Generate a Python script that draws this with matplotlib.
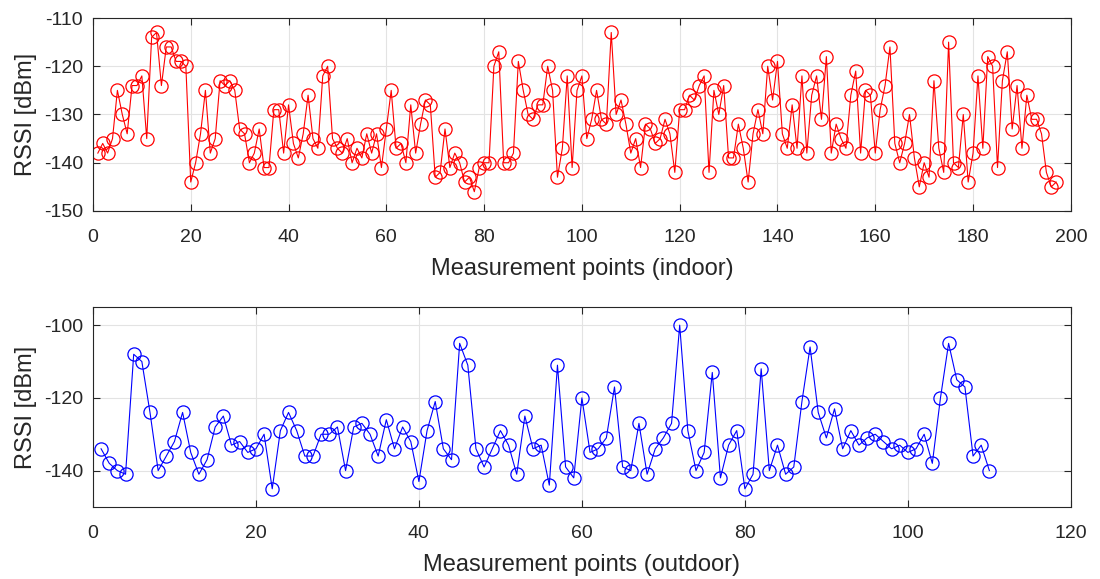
import matplotlib
matplotlib.use("Agg")
import matplotlib.pyplot as plt
import numpy as np

# RSSI readings, indoor (points 1..197)
rssi_indoor = [
    -138, -136, -138, -135, -125, -130, -134, -124, -124, -122,
    -135, -114, -113, -124, -116, -116, -119, -119, -120, -144,
    -140, -134, -125, -138, -135, -123, -124, -123, -125, -133,
    -134, -140, -138, -133, -141, -141, -129, -129, -138, -128,
    -136, -139, -134, -126, -135, -137, -122, -120, -135, -137,
    -138, -135, -140, -137, -139, -134, -138, -134, -141, -133,
    -125, -137, -136, -140, -128, -138, -132, -127, -128, -143,
    -142, -133, -141, -138, -140, -144, -143, -146, -141, -140,
    -140, -120, -117, -140, -140, -138, -119, -125, -130, -131,
    -128, -128, -120, -125, -143, -137, -122, -141, -125, -122,
    -135, -131, -125, -131, -132, -113, -130, -127, -132, -138,
    -135, -141, -132, -133, -136, -135, -131, -134, -142, -129,
    -129, -126, -127, -124, -122, -142, -125, -130, -124, -139,
    -139, -132, -137, -144, -134, -129, -134, -120, -127, -119,
    -134, -137, -128, -137, -122, -138, -126, -122, -131, -118,
    -138, -132, -135, -137, -126, -121, -138, -125, -126, -138,
    -129, -124, -116, -136, -140, -136, -130, -139, -145, -140,
    -143, -123, -137, -142, -115, -140, -141, -130, -144, -138,
    -122, -137, -118, -120, -141, -123, -117, -133, -124, -137,
    -126, -131, -131, -134, -142, -145, -144,
]

# RSSI readings, outdoor (points 1..110)
rssi_outdoor = [
    -134, -138, -140, -141, -108, -110, -124, -140, -136, -132,
    -124, -135, -141, -137, -128, -125, -133, -132, -135, -134,
    -130, -145, -129, -124, -129, -136, -136, -130, -130, -128,
    -140, -128, -127, -130, -136, -126, -134, -128, -132, -143,
    -129, -121, -134, -137, -105, -111, -134, -139, -134, -129,
    -133, -141, -125, -134, -133, -144, -111, -139, -142, -120,
    -135, -134, -131, -117, -139, -140, -127, -141, -134, -131,
    -127, -100, -129, -140, -135, -113, -142, -133, -129, -145,
    -141, -112, -140, -133, -141, -139, -121, -106, -124, -131,
    -123, -134, -129, -133, -131, -130, -132, -134, -133, -135,
    -134, -130, -138, -120, -105, -115, -117, -136, -133, -140,
]

plt.rcParams['font.family'] = ['Liberation Sans', 'DejaVu Sans']
plt.rcParams['axes.unicode_minus'] = False

fig = plt.figure(figsize=(11, 5.79), dpi=100)
ax1 = fig.add_axes([0.0845, 0.6356, 0.889, 0.3333])
ax2 = fig.add_axes([0.0845, 0.1244, 0.889, 0.3454])


def style(ax):
    ax.grid(True, color='#e3e3e3', linewidth=0.8)
    ax.set_axisbelow(True)
    ax.tick_params(direction='in', top=True, right=True, length=5,
                   width=0.8, colors='#262626', labelsize=14)
    ax.tick_params(axis='x', pad=13)
    ax.tick_params(axis='y', pad=7)
    for s in ax.spines.values():
        s.set_color('#262626')
        s.set_linewidth(0.8)


x1 = np.arange(1, len(rssi_indoor) + 1)
ax1.plot(x1, rssi_indoor, color='red', linewidth=0.8, marker='o',
         markersize=9.5, markerfacecolor='none', markeredgewidth=0.9)
ax1.set_xlim(0, 200)
ax1.set_ylim(-150, -110)
ax1.set_xticks(range(0, 201, 20))
ax1.set_yticks(range(-150, -109, 10))
ax1.set_xlabel('Measurement points (indoor)', fontsize=17, color='#262626', labelpad=8.5)
ax1.set_ylabel('RSSI [dBm]', fontsize=17, color='#262626', labelpad=5)
style(ax1)

x2 = np.arange(1, len(rssi_outdoor) + 1)
ax2.plot(x2, rssi_outdoor, color='blue', linewidth=0.8, marker='o',
         markersize=9.5, markerfacecolor='none', markeredgewidth=0.9)
ax2.set_xlim(0, 120)
ax2.set_ylim(-150, -95)
ax2.set_xticks(range(0, 121, 20))
ax2.set_yticks([-140, -120, -100])
ax2.set_xlabel('Measurement points (outdoor)', fontsize=17, color='#262626', labelpad=8.5)
ax2.set_ylabel('RSSI [dBm]', fontsize=17, color='#262626', labelpad=5)
style(ax2)

fig.savefig('out.png', dpi=100)
